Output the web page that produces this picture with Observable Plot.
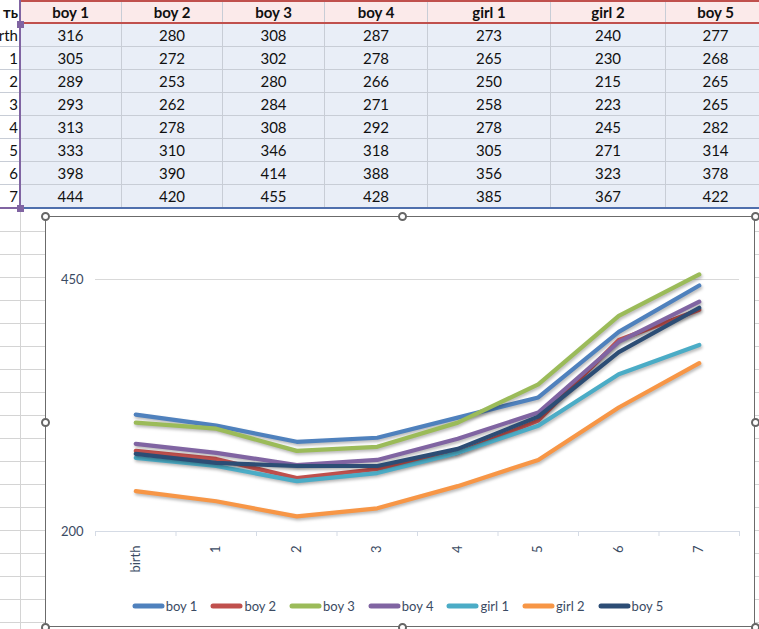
<!DOCTYPE html>
<html><head><meta charset="utf-8">
<script src="https://cdn.jsdelivr.net/npm/d3@7"></script>
<script src="https://cdn.jsdelivr.net/npm/@observablehq/plot@0.6"></script>
<style>
html,body{margin:0;padding:0}
body{width:759px;height:629px;overflow:hidden;background:#fff;font-family:Lato,"Open Sans",sans-serif;position:relative}
#grid{position:absolute;left:0;top:209px;width:759px;height:420px;
  background-image:repeating-linear-gradient(to bottom,transparent 0,transparent 22px,#d4d4d4 22px,#d4d4d4 23px);}
#gridv{position:absolute;left:20px;top:209px;width:1px;height:420px;background:#d4d4d4}
#sheet{position:absolute;left:0;top:0;width:759px;height:210px}
.cell{position:absolute;box-sizing:border-box;display:flex;align-items:center;justify-content:center;
  font-size:15px;color:#111;border-right:1px solid #c8cdd6;border-bottom:1px solid #c8cdd6;background:#e9eef7;overflow:hidden;white-space:nowrap}
.hdr{font-weight:bold;background:#fbeaea;border-bottom:none}
.lab{justify-content:flex-end;padding-right:2px;background:#fff;border-right:none}
#chartbox{position:absolute;left:45px;top:216px;width:710px;height:411px;box-sizing:border-box;border:1.5px solid #6b6b6b;background:#fff}
#plot{position:absolute;left:0;top:0}
#legend{position:absolute;left:0;top:381px;}
.handle{position:absolute;width:9px;height:9px;border-radius:50%;border:2px solid #666;background:#fff;box-sizing:border-box}
</style></head><body>
<div id="grid"></div><div id="gridv"></div>
<div id="sheet"></div>
<div id="chartbox"><div id="plot"></div><div id="legend"></div></div>
<script>
const ages = ["birth","1","2","3","4","5","6","7"];
const series = ["boy 1","boy 2","boy 3","boy 4","girl 1","girl 2","boy 5"];
const boy1  = [316,305,289,293,313,333,398,444];
const boy2  = [280,272,253,262,278,310,390,420];
const boy3  = [308,302,280,284,308,346,414,455];
const boy4  = [287,278,266,271,292,318,388,428];
const girl1 = [273,265,250,258,278,305,356,385];
const girl2 = [240,230,215,223,245,271,323,367];
const boy5  = [277,268,265,265,282,314,378,422];
const values = [boy1,boy2,boy3,boy4,girl1,girl2,boy5];
const colors = ["#4f81bd","#c0504d","#9bbb59","#8064a2","#4bacc6","#f79646","#2c4d75"];
const yTicks = [200,450];
const cornerLabel = "ть";

// ---- spreadsheet table ----
const colW = [20,102,101,102,103,123,115,100];
const colX = colW.reduce((a,w,i)=>{a.push(i?a[i-1]+colW[i-1]:0);return a;},[]);
const hdrH = 24, rowH = 23;
const sheet = document.getElementById("sheet");
function cell(txt,x,y,w,h,cls){const d=document.createElement("div");d.className="cell "+cls;
  d.style.left=x+"px";d.style.top=y+"px";d.style.width=w+"px";d.style.height=h+"px";
  const s=document.createElement("span");s.textContent=txt;d.appendChild(s);sheet.appendChild(d);}
cell(cornerLabel,0,0,colW[0],hdrH,"hdr lab");
series.forEach((s,k)=>cell(s,colX[k+1],0,colW[k+1],hdrH,"hdr"));
ages.forEach((a,i)=>{
  const y=hdrH+i*rowH;
  cell(a,0,y,colW[0],rowH,"lab");
  values.forEach((v,k)=>cell(String(v[i]),colX[k+1],y,colW[k+1],rowH,""));
});
const deco=(css)=>{const d=document.createElement("div");d.style.cssText="position:absolute;"+css;sheet.appendChild(d);};
deco("left:20px;top:0;width:740px;height:2px;background:#c0504d");
deco("left:20px;top:22px;width:740px;height:2px;background:#c0504d");
deco("left:19px;top:0;width:2px;height:209px;background:#8064a2");
deco("left:0;top:207px;width:20px;height:2px;background:#8064a2");
deco("left:21px;top:207px;width:740px;height:2px;background:#4f6fad");
deco("left:17px;top:21px;width:7px;height:7px;background:#8064a2");
deco("left:17px;top:205px;width:7px;height:7px;background:#8064a2");

// ---- chart ----
const rows = [];
series.forEach((s,k)=>values[k].forEach((v,i)=>rows.push({series:s,i,v})));
const txt = "#3b4b63";
const chart = Plot.plot({
  width:708, height:380, marginLeft:49, marginRight:15, marginTop:62, marginBottom:66,
  x:{type:"linear", domain:[-0.5, ages.length-0.5], axis:null},
  y:{domain:[200,450], axis:null},
  color:{domain:series, range:colors},
  style:{fontFamily:"Lato, 'Open Sans', sans-serif", fontSize:"13px", color:txt, background:"transparent", overflow:"visible"},
  marks:[
    Plot.ruleY([450],{stroke:"#d9d9d9", strokeWidth:1}),
    Plot.ruleY([200],{stroke:"#d5dbe5", strokeWidth:1}),
    Plot.axisX(d3.range(ages.length+1).map(i=>i-0.5),{tickSize:5, tickFormat:()=>"", stroke:"#d5dbe5", label:null}),
    Plot.axisX(d3.range(ages.length),{tickSize:0, tickFormat:i=>ages[i], tickRotate:-90, tickPadding:14, fill:txt, label:null}),
    Plot.axisY(yTicks,{tickSize:0, tickPadding:12, fill:txt, label:null}),
    Plot.line(rows,{x:"i", y:"v", z:"series", stroke:"series", strokeWidth:4.2, strokeLinecap:"round", strokeLinejoin:"round"})
  ]
});
d3.select(chart).selectAll("g[aria-label=line] path").style("filter","drop-shadow(1px 2px 1.5px rgba(0,0,0,0.28))");
document.getElementById("plot").appendChild(chart);

// legend
const leg = document.getElementById("legend");
leg.style.cssText += "width:708px;display:flex;justify-content:center;padding-left:8px;box-sizing:border-box;font-size:13px;color:"+txt+";align-items:center;height:16px";
series.forEach((s,k)=>{
  const it=document.createElement("div");it.style.cssText="display:flex;align-items:center;margin-right:13px";
  it.innerHTML=`<svg width="33" height="8"><line x1="3" y1="4" x2="30" y2="4" stroke="${colors[k]}" stroke-width="5" stroke-linecap="round"/></svg><span style="margin-left:1px">${s}</span>`;
  leg.appendChild(it);
});

// selection handles
[[45,216],[402,216],[755,216],[45,422],[755,422],[45,627],[402,627],[755,627]].forEach(([x,y])=>{
  const h=document.createElement("div");h.className="handle";h.style.left=(x-4.5)+"px";h.style.top=(y-4.5)+"px";document.body.appendChild(h);
});
</script>
</body></html>
